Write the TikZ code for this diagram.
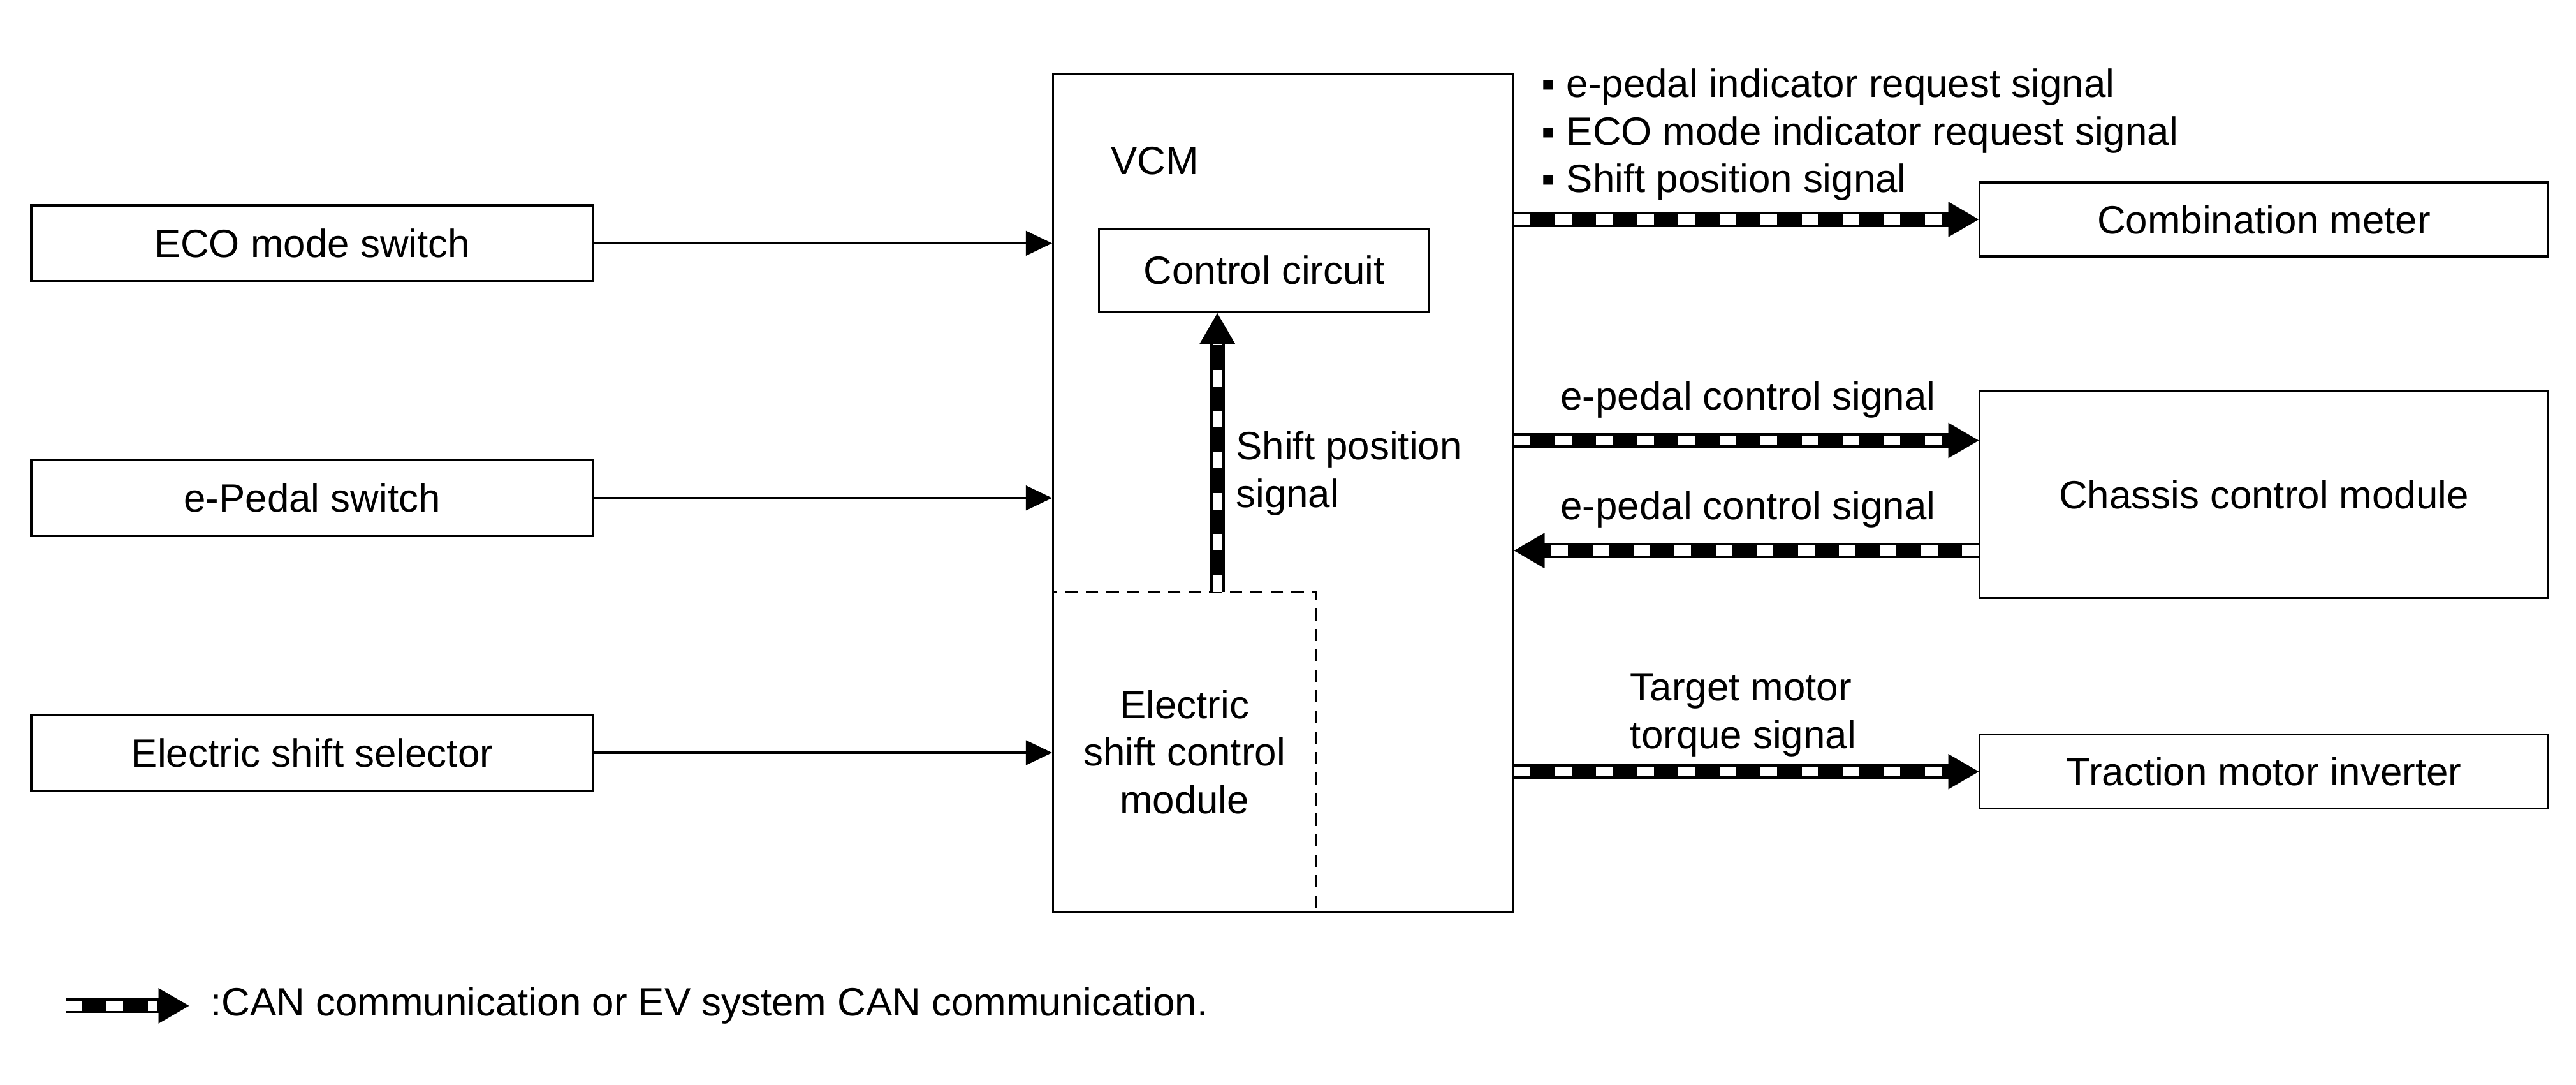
\documentclass[tikz,border=0pt]{standalone}
\usepackage{fontspec}
\setmainfont{Liberation Sans}
\usetikzlibrary{arrows.meta,positioning}

\tikzset{
  box/.style={draw,line width=0.7pt,inner sep=0pt,align=center},
  sig/.style={line width=0.7pt,-{Triangle[length=3.2mm,width=3mm]}},
  can/.style={line width=5.1pt,-{Triangle[length=3.7mm,width=4.3mm,line width=0.01pt]},
    postaction={draw=white,line width=3.4pt,dash pattern=on 2mm off 3mm,shorten >=3.8mm,-}}
}

\begin{document}
\begin{tikzpicture}[x=0.2mm,y=-0.2mm,font=\fontsize{13.66}{16.5}\selectfont]
\useasboundingbox (0,0) rectangle (1568,660);

% inputs
\node [box,minimum width=68.4mm,minimum height=9.2mm] (eco) at (190,148) {ECO mode switch};
\node [box,minimum width=68.4mm,minimum height=9.2mm] (epedal) at (190,303) {e-Pedal switch};
\node [box,minimum width=68.4mm,minimum height=9.2mm] (selector) at (190,458) {Electric shift selector};

% VCM
\node [box,dashed,dash pattern=on 1.5mm off 1mm,minimum width=32mm,minimum height=39mm] (escm) at (721,457.5) {Electric\\shift control\\module};
\node [box,minimum width=56mm,minimum height=102mm] (vcm) at (781,300) {};
\node (vcmlabel) at (703,98) {VCM};
\node [box,minimum width=40.2mm,minimum height=10.2mm] (ctrl) at (769.5,164.5) {Control circuit};
\coordinate (sp) at (741,360);

% outputs
\node [box,minimum width=69.2mm,minimum height=9mm] (meter) at (1378,133.5) {Combination meter};
\node [box,minimum width=69.2mm,minimum height=25.2mm] (chassis) at (1378,301) {Chassis control module};
\node [box,minimum width=69.2mm,minimum height=9mm] (inverter) at (1378,469.5) {Traction motor inverter};
\coordinate (chin) at ([yshift=6.6mm]chassis.west);
\coordinate (chout) at ([yshift=-6.8mm]chassis.west);

% labels
\node [anchor=west,align=left,inner sep=0pt] (meterlabel) at (938,82)
  {▪ e-pedal indicator request signal\\▪ ECO mode indicator request signal\\▪ Shift position signal};
\node (ctlout) at (1064,243) {e-pedal control signal};
\node (ctlin) at (1064,310) {e-pedal control signal};
\node [anchor=west,align=left,inner sep=0pt] (torque) at (992,435) {Target motor\\torque signal};
\node [anchor=west,align=left,inner sep=0pt] (splabel) at (752,288) {Shift position\\signal};

% connectors
\draw [sig] (eco.east) -- (eco.east -| vcm.west);
\draw [sig] (epedal.east) -- (epedal.east -| vcm.west);
\draw [sig] (selector.east) -- (selector.east -| vcm.west);
\draw [can] (sp) -- (sp |- ctrl.south);
\draw [can] (vcm.east |- meter.west) -- (meter.west);
\draw [can] (vcm.east |- chin) -- (chin);
\draw [can] (chout) -- (vcm.east |- chout);
\draw [can] (vcm.east |- inverter.west) -- (inverter.west);

% legend
\coordinate (lgstart) at (40,612);
\node [anchor=west,inner sep=0pt] (lgtext) at (128,612) {:CAN communication or EV system CAN communication.};
\draw [can] (lgstart) -- ([xshift=-2.6mm]lgtext.west);
\end{tikzpicture}
\end{document}
